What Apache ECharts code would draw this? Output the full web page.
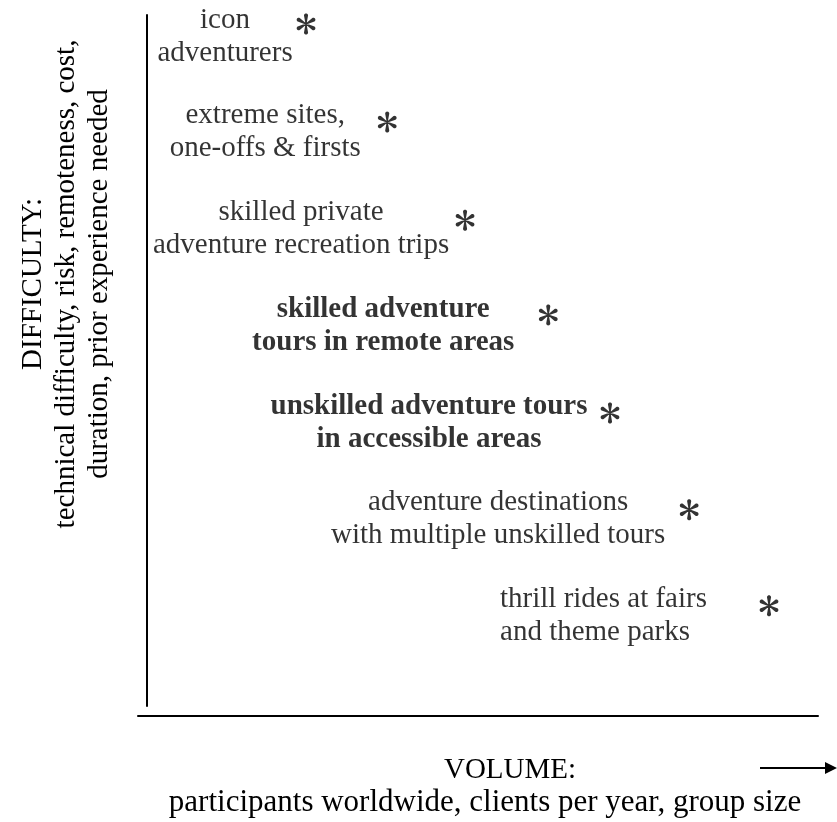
<!DOCTYPE html>
<html>
<head>
<meta charset="utf-8">
<script src="https://cdn.jsdelivr.net/npm/echarts@6/dist/echarts.min.js"></script>
<style>
html, body { margin: 0; padding: 0; background: #fff; }
#chart { width: 837px; height: 822px; }
</style>
</head>
<body>
<div id="chart"></div>
<script>
// market segments, from low volume / high difficulty to high volume / low difficulty
var segments = [
    'icon\nadventurers',
    'extreme sites,\none-offs & firsts',
    'skilled private\nadventure recreation trips',
    'skilled adventure\ntours in remote areas',
    'unskilled adventure tours\nin accessible areas',
    'adventure destinations\nwith multiple unskilled tours',
    'thrill rides at fairs\nand theme parks'
];
var volume = [23.7, 35.8, 47.4, 59.8, 69.0, 80.8, 92.7];
var difficulty = [98.7, 84.5, 70.3, 56.6, 42.4, 28.4, 14.5];

// layout only: where each label sits relative to its asterisk (px)
var labelShift = [[-81, 13], [-122, 10], [-164, 9], [-165, 11], [-181, 10], [-191, 9], [-269, 10]];
var boldIdx = [3, 4];
var leftAlignIdx = [6];

var FONT = '"Liberation Serif", "Times New Roman", serif';

// six teardrop spokes
function asteriskPath() {
    var d = '';
    [90, 30, 150, 210, 270, 330].forEach(function (deg) {
        var a = deg * Math.PI / 180;
        var dx = Math.cos(a), dy = -Math.sin(a);
        var px = -dy, py = dx;
        var w0 = 0.5, rc = 1.9, cd = 7.9;
        var cx = dx * cd, cy = dy * cd;
        var pts = [[px * w0, py * w0]];
        for (var k = 0; k <= 12; k++) {
            var t = Math.PI * k / 12;
            pts.push([cx + px * rc * Math.cos(t) + dx * rc * Math.sin(t),
                      cy + py * rc * Math.cos(t) + dy * rc * Math.sin(t)]);
        }
        pts.push([-px * w0, -py * w0]);
        d += 'M' + pts.map(function (p) { return (p[0] + 10).toFixed(2) + ' ' + (p[1] + 10).toFixed(2); }).join(' L') + ' Z ';
    });
    return 'path://' + d;
}

var chart = echarts.init(document.getElementById('chart'), null, { renderer: 'canvas' });

var points = volume.map(function (v, i) {
    return {
        value: [v, difficulty[i]],
        label: {
            offset: labelShift[i],
            align: leftAlignIdx.indexOf(i) >= 0 ? 'left' : 'center',
            fontWeight: boldIdx.indexOf(i) >= 0 ? 'bold' : 'normal'
        }
    };
});

var option = {
    backgroundColor: '#fff',
    animation: false,
    grid: [
        { left: 147, right: 19, top: 15, bottom: 116 },
        { left: 138, right: 19, top: 700, bottom: 106 }
    ],
    xAxis: [
        { gridIndex: 0, type: 'value', min: 0, max: 100, show: false },
        {
            gridIndex: 1, type: 'value', min: 0, max: 100,
            axisLine: { show: true, onZero: false, lineStyle: { color: '#000', width: 2 } },
            axisTick: { show: false }, axisLabel: { show: false }, splitLine: { show: false }
        }
    ],
    yAxis: [
        {
            gridIndex: 0, type: 'value', min: 0, max: 100,
            axisLine: { show: true, onZero: false, lineStyle: { color: '#000', width: 2 } },
            axisTick: { show: false }, axisLabel: { show: false }, splitLine: { show: false }
        },
        { gridIndex: 1, type: 'value', show: false }
    ],
    series: [{
        type: 'scatter',
        xAxisIndex: 0,
        yAxisIndex: 0,
        symbol: asteriskPath(),
        symbolSize: 21,
        symbolKeepAspect: true,
        itemStyle: { color: '#000' },
        label: {
            show: true,
            position: 'inside',
            formatter: function (p) { return segments[p.dataIndex]; },
            color: '#000',
            fontFamily: FONT,
            fontSize: 29,
            lineHeight: 33,
            verticalAlign: 'middle'
        },
        data: points
    }],
    graphic: [
        {
            type: 'text', x: 66, y: 284, rotation: Math.PI / 2,
            style: {
                text: 'DIFFICULTY:\ntechnical difficulty, risk, remoteness, cost,\nduration, prior experience needed',
                fontFamily: FONT, fontSize: 29, lineHeight: 33, fill: '#000',
                align: 'center', verticalAlign: 'middle'
            }
        },
        {
            type: 'text', x: 510, y: 770,
            style: { text: 'VOLUME:', fontFamily: FONT, fontSize: 29, fill: '#000', align: 'center', verticalAlign: 'middle' }
        },
        {
            type: 'text', x: 485, y: 803,
            style: { text: 'participants worldwide, clients per year, group size', fontFamily: FONT, fontSize: 31, fill: '#000', align: 'center', verticalAlign: 'middle' }
        },
        {
            type: 'line', shape: { x1: 760, y1: 768, x2: 828, y2: 768 },
            style: { stroke: '#000', lineWidth: 2 }
        },
        {
            type: 'polygon', shape: { points: [[825, 762], [837, 768], [825, 774]] },
            style: { fill: '#000' }
        }
    ]
};

chart.setOption(option);
</script>
</body>
</html>
